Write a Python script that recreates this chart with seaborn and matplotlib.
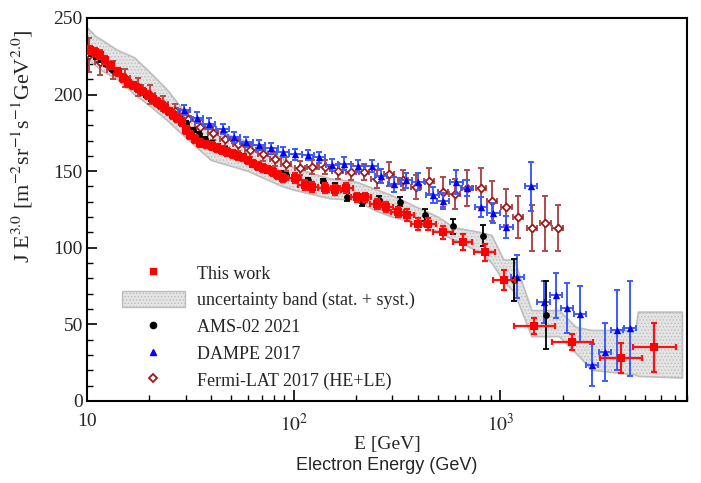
import numpy as np
import pandas as pd
import seaborn as sns
import matplotlib
matplotlib.use("Agg")
from matplotlib import pyplot as plt
from matplotlib.lines import Line2D
from matplotlib.patches import Patch
from matplotlib.ticker import FixedLocator, MultipleLocator, LogLocator, NullFormatter

# This work (red squares)
red_E = [10.3, 10.9, 11.5, 12.2, 13.0, 14.1, 15.0, 15.8, 16.7, 17.6,
         18.6, 19.7, 20.8, 21.8, 22.8, 23.8, 24.9, 26.0, 27.4, 28.8,
         30.0, 31.4, 33.2, 35.1, 37.6, 40.2, 42.5, 45.0, 47.8, 50.8,
         53.7, 56.7, 60.0, 63.4, 67.0, 70.9, 75.0, 79.0, 83.5, 88.6,
         101, 113, 123, 141, 158, 180, 202, 222, 252, 281,
         318, 355, 398, 444, 526, 656, 838, 1040, 1460, 2230,
         3830, 5560]
red_J = [229, 228, 226, 222.6, 219, 214.8, 211, 207.6, 206, 204,
         202, 199.7, 197, 195, 193, 191, 189, 186.7, 184.5, 182,
         177, 173.6, 171, 168.4, 167.5, 166.4, 165, 163.8, 162.5, 161.2,
         160, 159, 157, 155, 153.5, 152, 151, 149.5, 147.5, 145.6,
         145.6, 141, 139.7, 139, 137.7, 139, 133, 133, 128.6, 126.6,
         123.4, 121.4, 115.5, 115.5, 110, 103.8, 97, 79, 49, 38.5,
         28, 35]
red_err = [2.5] * 40 + [3, 3, 3, 3, 3, 3, 3, 3, 3.5, 3.5,
                        3.5, 4, 4, 4, 4.5, 5, 5.5, 6.5, 5, 5, 10, 16]
# half bin width in decades
red_dex = [0.015] * 40 + [0.03] * 13 + [0.04, 0.048, 0.048, 0.05, 0.052,
                                        0.1, 0.1, 0.103, 0.104]

# uncertainty band (stat. + syst.)
band_E = [10, 11, 12, 14, 17, 20, 24.5, 30, 40, 60, 88, 100, 150, 200, 250,
          300, 400, 500, 600, 800, 910, 1040, 1170, 1420, 1930, 2330, 2780,
          4520, 4650, 7600]
band_hi = [244, 238, 235, 229, 224, 215, 203, 188, 178, 169, 158.6, 152, 145,
           143, 138, 134, 126, 120, 113, 110, 108, 92, 92, 59, 59, 48, 46,
           46, 58, 58]
band_lo = [224, 219, 215, 210, 200, 193, 183, 172, 157, 150, 140, 137.7, 132,
           131, 124, 120, 116, 110, 105, 97, 90, 78, 71, 42, 42, 31, 20,
           17, 16, 15]

# AMS-02 2021
ams_E = [10.4, 11.0, 11.7, 12.4, 13.2, 14.0, 14.9, 15.9, 16.9, 18.0,
         19.2, 20.5, 21.8, 23.3, 24.9, 26.5, 28.3, 30.2, 32.4, 34.7,
         37.3, 40.1, 43.2, 46.7, 50.6, 55.0, 60.0, 65.5, 72.0, 79.5,
         87, 92, 104, 117, 138, 158, 182, 215, 260, 326,
         430, 587, 827, 1170, 1670]
ams_J = [227, 225, 223, 220, 217, 214, 211, 208, 206, 203,
         200, 197, 194, 192, 189, 187, 184, 181, 177, 174,
         171, 168.5, 166, 164, 161.5, 159, 156.5, 154, 152, 150,
         148.8, 147.5, 145.5, 144, 143.6, 140, 133, 130, 131, 130,
         121.4, 114, 108, 79, 56]
ams_err = [1.5] * 35 + [2, 2.5, 2.5, 3, 3, 4, 5, 7, 14, 22]

# DAMPE 2017
dampe_E = [29.4, 34, 38.8, 45.3, 51.3, 59, 67.6, 78, 88.6, 102,
           117, 133, 154, 176, 204, 238, 265, 307, 350, 401,
           470, 526, 612, 690, 805, 925, 1070, 1210, 1410, 1620,
           1860, 2100, 2420, 2780, 3210, 3670, 4240]
dampe_J = [190, 185, 181, 177.5, 172, 169, 167, 165, 162.5, 161,
           160.6, 159, 154, 155, 153.5, 153.4, 147, 141.5, 144, 143,
           134.5, 130.5, 143, 139, 126.6, 122.7, 113.6, 81, 140, 64.6,
           69, 60.7, 56.8, 23.5, 32, 46.3, 47.6]
dampe_err = [3.5] * 12 + [4, 4, 4, 4, 4.5, 5, 5, 5.5,
                          5, 5, 7.6, 5.4, 6.5, 6.5, 7, 14, 16, 14,
                          14.6, 16, 18, 14, 19, 26, 31]

# Fermi-LAT 2017 (HE+LE)
fermi_E = [10.2, 11.6, 13.3, 15.3, 17.6, 20.2, 23.2, 26.7, 30.7, 35.3,
           40.6, 46.7, 53.7, 61.7, 71.0, 81.6, 92, 107, 123, 141,
           163, 190, 219, 252, 290, 339, 392, 452, 526, 600,
           690, 805, 914, 1070, 1220, 1420, 1650, 1890]
fermi_J = [226, 221, 216, 211, 205, 200, 194, 189, 184, 179,
           175, 171, 167.5, 164, 161, 158, 154.7, 152, 152.7, 152.7,
           150, 149.5, 149.5, 145, 148, 144, 139.7, 143.6, 136.4, 135,
           139, 139, 130.5, 126.6, 120, 113, 116, 113]
fermi_err = [11, 8, 6, 6, 6, 6, 5, 5, 5, 4.5] + [4.5] * 10 + \
            [5, 5, 5.4, 6, 8, 6.5, 8, 8.7, 10, 9.8,
             11.7, 13, 13, 12, 13.6, 15, 18, 15]

red = pd.DataFrame({"E": red_E, "J": red_J, "err": red_err, "dex": red_dex})
ams = pd.DataFrame({"E": ams_E, "J": ams_J, "err": ams_err})
dampe = pd.DataFrame({"E": dampe_E, "J": dampe_J, "err": dampe_err})
fermi = pd.DataFrame({"E": fermi_E, "J": fermi_J, "err": fermi_err})


def xerr_dex(E, d):
    E = np.asarray(E, dtype=float)
    d = np.asarray(d, dtype=float)
    return [E - E / 10 ** d, E * 10 ** d - E]


sns.set_style("ticks")
plt.rcParams['font.family'] = ['Liberation Serif', 'DejaVu Serif']
plt.rcParams['mathtext.fontset'] = 'stix'
plt.rcParams['hatch.linewidth'] = 0.6
plt.rcParams['hatch.color'] = '#9a9a9a'

fig = plt.figure(figsize=(7.01, 4.83), dpi=100)
ax = fig.add_axes([0.1241, 0.1698, 0.856, 0.793])

# band
ax.fill_between(band_E, band_lo, band_hi, facecolor='#e4e4e4',
                edgecolor='#bdbdbd', hatch='.....', linewidth=1.2, zorder=1)

# Fermi
ax.errorbar(fermi["E"], fermi["J"], yerr=fermi["err"],
            xerr=xerr_dex(fermi["E"], [0.025] * len(fermi)),
            fmt='none', ecolor='#b04a4a', elinewidth=1.4, capsize=2,
            capthick=1.4, zorder=2)
sns.scatterplot(data=fermi, x="E", y="J", marker='D', s=16, color='white',
                edgecolor='#a01818', linewidth=1.3, ax=ax, zorder=3, legend=False)

# DAMPE
ax.errorbar(dampe["E"], dampe["J"], yerr=dampe["err"],
            xerr=xerr_dex(dampe["E"], [0.03] * len(dampe)),
            fmt='none', ecolor='#3a5cff', elinewidth=1.4, capsize=2,
            capthick=1.4, zorder=4)
sns.scatterplot(data=dampe, x="E", y="J", marker='^', s=28, color='#0000ff',
                edgecolor='#0000ff', linewidth=0, ax=ax, zorder=5, legend=False)

# AMS-02
ax.errorbar(ams["E"], ams["J"], yerr=ams["err"], fmt='none', ecolor='black',
            elinewidth=1.3, capsize=2, capthick=1.3, zorder=6)
sns.scatterplot(data=ams, x="E", y="J", marker='o', s=24, color='black',
                edgecolor='black', linewidth=0, ax=ax, zorder=7, legend=False)

# This work
ax.errorbar(red["E"], red["J"], yerr=red["err"],
            xerr=xerr_dex(red["E"], red["dex"]),
            fmt='none', ecolor='#ff1010', elinewidth=1.6, capsize=2,
            capthick=1.6, zorder=8)
sns.scatterplot(data=red, x="E", y="J", marker='s', s=40, color='#ff0000',
                edgecolor='#ff0000', linewidth=0, ax=ax, zorder=9, legend=False)

ax.set_xscale('log')
ax.set_xlim(10, 8000)
ax.set_ylim(0, 250)
ax.xaxis.set_major_locator(FixedLocator([10, 100, 1000]))
ax.set_xticklabels(['10', '$10^2$', '$10^3$'])
ax.xaxis.set_minor_locator(LogLocator(base=10, subs=range(2, 10)))
ax.xaxis.set_minor_formatter(NullFormatter())
ax.yaxis.set_major_locator(MultipleLocator(50))
ax.yaxis.set_minor_locator(MultipleLocator(10))

ax.tick_params(which='both', direction='in', top=False, right=False,
               labelsize=14, color='black')
ax.tick_params(axis='x', which='major', length=8, width=1.2, pad=9)
ax.tick_params(axis='x', which='minor', length=4, width=1)
ax.tick_params(axis='y', which='major', length=7, width=1.2, pad=3)
ax.tick_params(axis='y', which='minor', length=4, width=1)
for sp in ax.spines.values():
    sp.set_linewidth(1.5)
    sp.set_color('black')

ax.set_xlabel('E [GeV]', fontsize=14, labelpad=0)
ax.set_ylabel(r'J E$^{3.0}$ [m$^{-2}$sr$^{-1}$s$^{-1}$GeV$^{2.0}$]',
              fontsize=16, ha='right')
ax.yaxis.set_label_coords(-0.086, 0.97)

fig.text((87 + 687) / 2 / 701, 1 - 466 / 483, 'Electron Energy (GeV)',
         family=['Liberation Sans', 'DejaVu Sans'], fontsize=13,
         ha='center', va='center')

handles = [
    Line2D([], [], marker='s', color='#ff0000', linestyle='none', markersize=5),
    Patch(facecolor='#e4e4e4', edgecolor='#bdbdbd', hatch='.....', linewidth=1),
    Line2D([], [], marker='o', color='black', linestyle='none', markersize=4.5),
    Line2D([], [], marker='^', color='#0000ff', linestyle='none', markersize=5),
    Line2D([], [], marker='D', markerfacecolor='white', markeredgecolor='#a01818',
           markeredgewidth=1.3, linestyle='none', markersize=4),
]
labels = ['This work', 'uncertainty band (stat. + syst.)', 'AMS-02 2021',
          'DAMPE 2017', 'Fermi-LAT 2017 (HE+LE)']
ax.legend(handles, labels, loc='upper left', bbox_to_anchor=(0.058, 0.357),
          frameon=False, fontsize=13, handlelength=3.5, handleheight=1.0,
          handletextpad=0.67, labelspacing=0.47, borderpad=0, borderaxespad=0)

fig.savefig('out.png', dpi=100)
